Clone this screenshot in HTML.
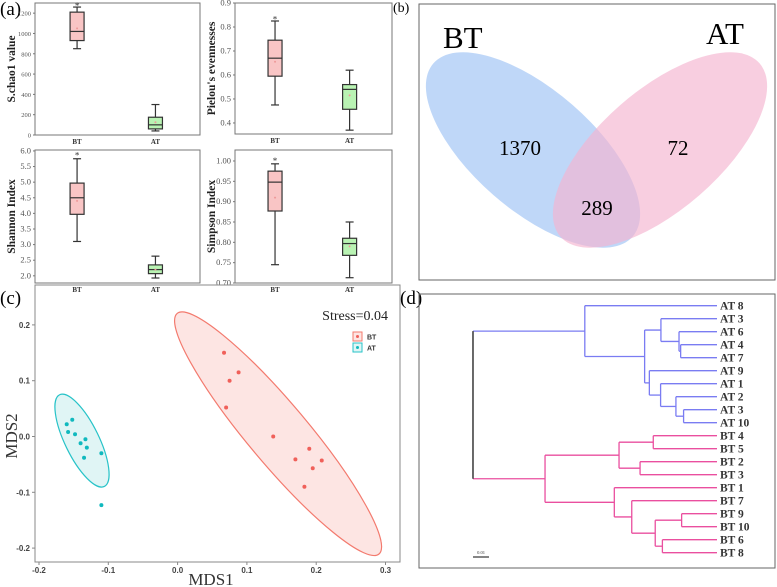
<!DOCTYPE html>
<html><head><meta charset="utf-8"><style>
html,body{margin:0;padding:0;background:#fff;width:777px;height:587px;overflow:hidden}
svg{display:block}
</style></head><body>
<svg id="fig" width="777" height="587" viewBox="0 0 777 587" xmlns="http://www.w3.org/2000/svg" font-family="Liberation Serif, serif">
<text x="0" y="15" font-size="19">(a)</text>
<text x="393" y="12" font-size="14">(b)</text>
<text x="0" y="304" font-size="19">(c)</text>
<text x="400" y="304" font-size="19">(d)</text>
<g id="panelA"></g>
<g id="panelB">
<rect x="419" y="4" width="356" height="276" fill="none" stroke="#666" stroke-width="1"/>
<ellipse cx="533" cy="150" rx="132" ry="60" transform="rotate(41 533 150)" fill="#a9c9f5" fill-opacity="0.75"/>
<ellipse cx="660" cy="150" rx="132" ry="60" transform="rotate(-41 660 150)" fill="#f5b3cf" fill-opacity="0.65"/>
<text x="443" y="48" font-size="31">BT</text>
<text x="706" y="44" font-size="31">AT</text>
<text x="520" y="155" font-size="21" text-anchor="middle">1370</text>
<text x="678" y="155" font-size="21" text-anchor="middle">72</text>
<text x="597" y="215" font-size="21" text-anchor="middle">289</text>
</g>
<g id="panelC"></g>
<g id="panelD"></g>
</svg>
<script>
var NS='http://www.w3.org/2000/svg';
function mk(p,t,a){var e=document.createElementNS(NS,t);for(var k in a){e.setAttribute(k,a[k]);}p.appendChild(e);return e;}

// ---- Panel (a) box plot data: [min, q1, median, q3, max, mean, outlier]
var boxGroups=['BT','AT'];
var chao1Stats=[[850,930,1020,1210,1260,1050,1280],[40,60,100,175,300,125,null]];
var pielouStats=[[0.475,0.595,0.67,0.745,0.825,0.655,0.835],[0.37,0.457,0.54,0.56,0.62,0.515,null]];
var shannonStats=[[3.1,3.97,4.5,4.97,5.75,4.4,5.88],[1.93,2.07,2.2,2.35,2.63,2.2,null]];
var simpsonStats=[[0.745,0.877,0.948,0.975,0.993,0.91,1.002],[0.713,0.768,0.797,0.81,0.85,0.79,null]];
var chao1Ticks=[0,200,400,600,800,1000,1200];
var pielouTicks=[0.4,0.5,0.6,0.7,0.8,0.9];
var shannonTicks=[2.0,2.5,3.0,3.5,4.0,4.5,5.0,5.5,6.0];
var simpsonTicks=[0.70,0.75,0.80,0.85,0.90,0.95,1.00];

// ---- Panel (c) NMDS data
var btMds1=[0.067,0.088,0.075,0.070,0.138,0.190,0.208,0.170,0.195,0.183];
var btMds2=[0.150,0.115,0.100,0.052,0.000,-0.022,-0.043,-0.041,-0.057,-0.090];
var atMds1=[-0.160,-0.152,-0.158,-0.148,-0.140,-0.133,-0.131,-0.135,-0.110,-0.110];
var atMds2=[0.022,0.030,0.008,0.004,-0.012,-0.005,-0.020,-0.038,-0.030,-0.123];
var mds1Ticks=[-0.2,-0.1,0.0,0.1,0.2,0.3];
var mds2Ticks=[-0.2,-0.1,0.0,0.1,0.2];

// ---- Panel (d) dendrogram data (node heights = distance from leaves)
var leafLabels=['AT 8','AT 3','AT 6','AT 4','AT 7','AT 9','AT 1','AT 2','AT 3','AT 10','BT 4','BT 5','BT 2','BT 3','BT 1','BT 7','BT 9','BT 10','BT 6','BT 8'];
var treeChildren={
  root:['at','bt'],
  at:[0,'at2'], at2:['at3','at6'], at3:[1,'at4'], at4:[2,'at5'], at5:[3,4],
  at6:[5,'at7'], at7:[6,'at8'], at8:[7,'at9'], at9:[8,9],
  bt:['bt2','bt5'], bt2:['bt3','bt4'], bt3:[10,11], bt4:[12,13],
  bt5:[14,'bt6'], bt6:[15,'bt7'], bt7:['bt8','bt9'], bt8:[16,17], bt9:[18,19]
};
var nodeHeights={root:0.1497,at:0.0811,at2:0.0444,at3:0.0344,at4:0.0233,at5:0.0223,at6:0.0415,at7:0.0346,at8:0.0252,at9:0.0205,
  bt:0.1055,bt2:0.0601,bt3:0.0391,bt4:0.0472,bt5:0.0630,bt6:0.0523,bt7:0.0379,bt8:0.0217,bt9:0.0335};

var gA=document.getElementById('panelA');
function boxPanel(name,x0,x1,y0,y1,vmin,vmax,ticks,dec,stats,title){
  var g=mk(gA,'g',{});
  
  
  var ysc=function(v){return y1-(v-vmin)/(vmax-vmin)*(y1-y0);};
  var xsc=function(i){return x0+(x1-x0)*(i===0?0.255:0.73);};
  var fr=mk(g,'rect',{x:x0,y:y0,width:x1-x0,height:y1-y0,fill:'none',stroke:'#777','stroke-width':1});
  
  
  ticks.forEach(function(t){
    var y=ysc(t);
    mk(g,'line',{x1:x0-2,x2:x0,y1:y,y2:y,stroke:'#777'});
    var tx=mk(g,'text',{x:x0-4,y:y+2.5,'font-size':(dec===0?6.5:8.5),'text-anchor':'end',fill:'#555'});
    tx.textContent=t.toFixed(dec);
    
    
  });
  var yt=mk(g,'text',{transform:'translate('+(x0-20)+','+((y0+y1)/2)+') rotate(-90)','font-size':11.5,'font-weight':'bold','text-anchor':'middle',fill:'#222'});
  yt.textContent=title;
  
  
  stats.forEach(function(s,i){
    var cx=xsc(i),w=7,col=i===0?'#f9c5c5':'#b9f3b3';
    mk(g,'line',{x1:cx,x2:cx,y1:ysc(s[4]),y2:ysc(s[0]),stroke:'#333','stroke-width':1.2});
    mk(g,'line',{x1:cx-4,x2:cx+4,y1:ysc(s[4]),y2:ysc(s[4]),stroke:'#333','stroke-width':1.2});
    mk(g,'line',{x1:cx-4,x2:cx+4,y1:ysc(s[0]),y2:ysc(s[0]),stroke:'#333','stroke-width':1.2});
    var b=mk(g,'rect',{x:cx-w,y:ysc(s[3]),width:2*w,height:ysc(s[1])-ysc(s[3]),fill:col,stroke:'#333','stroke-width':1.2});
    
    
    mk(g,'line',{x1:cx-w,x2:cx+w,y1:ysc(s[2]),y2:ysc(s[2]),stroke:'#333','stroke-width':1.2});
    mk(g,'circle',{cx:cx,cy:ysc(s[5]),r:1,fill:'#e99'});
    if(s[6]!==null){
      var o=mk(g,'text',{x:cx,y:ysc(s[6])+4,'font-size':9,'text-anchor':'middle',fill:'#333'});
      o.textContent='*';
      
      
    }
    var xl=mk(g,'text',{x:cx,y:y1+9,'font-size':7,'font-weight':'bold','text-anchor':'middle',fill:'#333'});
    xl.textContent=boxGroups[i];
    
    
  });
}
boxPanel('chao1-boxplot',35,200,3,135,0,1300,chao1Ticks,0,chao1Stats,'S.chao1 value');
boxPanel('pielou-boxplot',235,392,3,134,0.354,0.9,pielouTicks,1,pielouStats,"Pielou's evennesses");
boxPanel('shannon-boxplot',35,200,150,283,1.77,6.03,shannonTicks,1,shannonStats,'Shannon Index');
boxPanel('simpson-boxplot',235,392,150,283,0.70,1.027,simpsonTicks,2,simpsonStats,'Simpson Index');

// ---- Panel (c)
var gC=document.getElementById('panelC');
var cx0=35,cx1=400,cy0=285,cy1=562;
function sx(v){return 39+(v+0.2)*693;}
function sy(v){return 436.5-v*558;}
(function(){
  var fr=mk(gC,'rect',{x:cx0,y:cy0,width:cx1-cx0,height:cy1-cy0,fill:'none',stroke:'#888','stroke-width':1});
  
  
  mds1Ticks.forEach(function(t){var x=sx(t);mk(gC,'line',{x1:x,x2:x,y1:cy1,y2:cy1+3,stroke:'#888'});
    var e=mk(gC,'text',{x:x,y:cy1+11,'font-size':8,'text-anchor':'middle',fill:'#444','font-family':'Liberation Sans, sans-serif','font-weight':'bold'});e.textContent=t.toFixed(1);
    
    });
  mds2Ticks.forEach(function(t){var y=sy(t);mk(gC,'line',{x1:cx0-3,x2:cx0,y1:y,y2:y,stroke:'#888'});
    var e=mk(gC,'text',{x:cx0-5,y:y+3,'font-size':8,'text-anchor':'end',fill:'#444','font-family':'Liberation Sans, sans-serif','font-weight':'bold'});e.textContent=t.toFixed(1);
    
    });
  var xt=mk(gC,'text',{x:211,y:585,'font-size':17,'text-anchor':'middle',fill:'#333'});xt.textContent='MDS1';
  
  
  var yt=mk(gC,'text',{transform:'translate(17,436) rotate(-90)','font-size':17,'text-anchor':'middle',fill:'#333'});yt.textContent='MDS2';
  
  
  var ex=sx(0.145),ey=sy(0.005);
  var e1=mk(gC,'ellipse',{cx:ex,cy:ey,rx:157,ry:30,transform:'rotate(50 '+ex+' '+ey+')',fill:'#fde5e3',stroke:'#f37a6e','stroke-width':1.2});
  
  
  var e2=mk(gC,'ellipse',{cx:82,cy:440.6,rx:51,ry:17,transform:'rotate(64 82 440.6)',fill:'#e0f5f5',stroke:'#27c3c8','stroke-width':1.2});
  
  
  btMds1.forEach(function(v,i){var c=mk(gC,'circle',{cx:sx(v),cy:sy(btMds2[i]),r:2,fill:'#f0605a'});
    
    });
  atMds1.forEach(function(v,i){var c=mk(gC,'circle',{cx:sx(v),cy:sy(atMds2[i]),r:2,fill:'#10b9be'});
    
    });
  var st=mk(gC,'text',{x:388,y:320,'font-size':14,'text-anchor':'end',fill:'#222'});st.textContent='Stress=0.04';
  
  
  var lg=mk(gC,'g',{});
  
  
  mk(lg,'rect',{x:353,y:332,width:9,height:9,fill:'#fde5e3',stroke:'#f37a6e'});
  mk(lg,'circle',{cx:357.5,cy:336.5,r:1.5,fill:'#f0605a'});
  mk(lg,'rect',{x:353,y:343,width:9,height:9,fill:'#e0f5f5',stroke:'#27c3c8'});
  mk(lg,'circle',{cx:357.5,cy:347.5,r:1.5,fill:'#10b9be'});
  var l1=mk(lg,'text',{x:367,y:339.5,'font-size':7,'font-weight':'bold','font-family':'Liberation Sans, sans-serif',fill:'#333'});l1.textContent='BT';
  
  
  var l2=mk(lg,'text',{x:367,y:350.5,'font-size':7,'font-weight':'bold','font-family':'Liberation Sans, sans-serif',fill:'#333'});l2.textContent='AT';
  
  
})();

// ---- Panel (d)
var gD=document.getElementById('panelD');
var leafX=717,distScale=1630,leafY0=305.7,leafStep=13;
function hx(h){return leafX-h*distScale;}
function leafYPos(i){return leafY0+i*leafStep;}
(function(){
  var fr=mk(gD,'rect',{x:419,y:294,width:356,height:274,fill:'none',stroke:'#666'});
  
  
  function cladeColor(name){return name.charAt(0)==='a'?'#7a7cf2':'#ea4f9f';}
  function draw(node,parentX,col){
    if(typeof node==='number'){
      var y=leafYPos(node);
      var l=mk(gD,'line',{x1:parentX,x2:leafX,y1:y,y2:y,stroke:col,'stroke-width':1.3});
      
      
      var t=mk(gD,'text',{x:leafX+3,y:y+4,'font-size':11.5,'font-weight':'bold',fill:'#333'});
      t.textContent=leafLabels[node];
      
      
      return y;
    }
    var x=hx(nodeHeights[node]);
    var myCol=node==='root'?'#444':cladeColor(node);
    var kids=treeChildren[node];
    var ys=kids.map(function(k){return draw(k,x,node==='root'?cladeColor(k):myCol);});
    var mid=(ys[0]+ys[1])/2;
    var v=mk(gD,'line',{x1:x,x2:x,y1:ys[0],y2:ys[1],stroke:myCol,'stroke-width':node==='root'?1.6:1.3});
    
    
    if(parentX!==null){
      var h=mk(gD,'line',{x1:parentX,x2:x,y1:mid,y2:mid,stroke:col,'stroke-width':1.3});
      
      
    }
    return mid;
  }
  draw('root',null,'#444');
  mk(gD,'line',{x1:473,x2:489,y1:557,y2:557,stroke:'#333','stroke-width':1.2});
  var sb=mk(gD,'text',{x:481,y:554,'font-size':4.5,'text-anchor':'middle',fill:'#333'});sb.textContent='0.01';
  
  
})();
</script>
</body></html>
